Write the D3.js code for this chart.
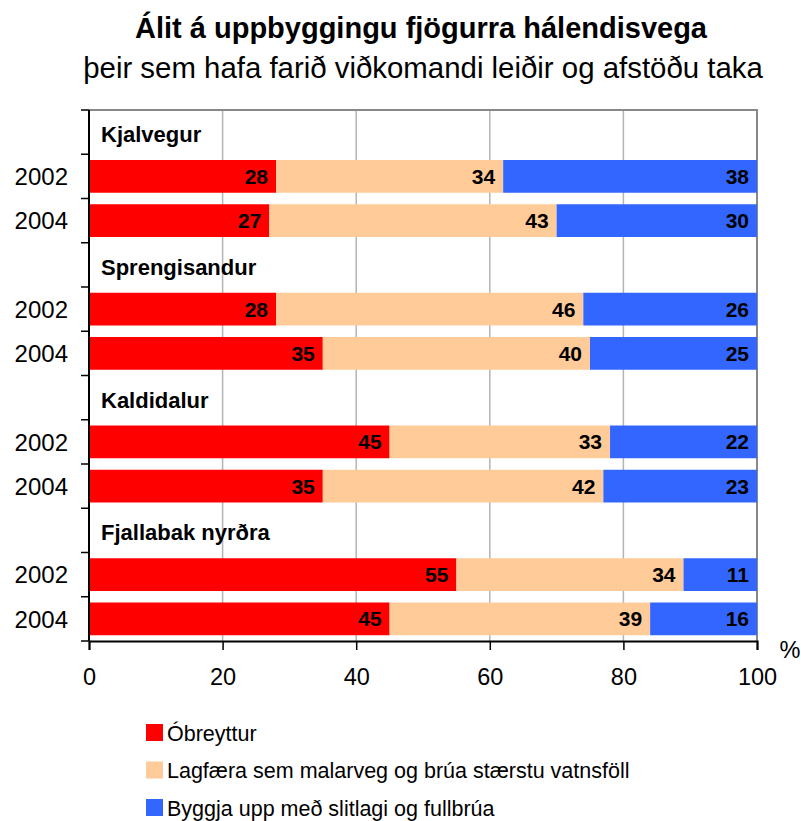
<!DOCTYPE html>
<html>
<head>
<meta charset="utf-8">
<script src="https://cdn.jsdelivr.net/npm/d3@7"></script>
<style>
  body { margin: 0; background: #fff; }
  text { font-family: Arial, "Liberation Sans", sans-serif; }
</style>
</head>
<body>
<div id="chart"></div>
<script>
// data
var roads = ["Kjalvegur", "Sprengisandur", "Kaldidalur", "Fjallabak nyrðra"];
var years = ["2002", "2004"];
var seriesNames = ["Óbreyttur", "Lagfæra sem malarveg og brúa stærstu vatnsföll", "Byggja upp með slitlagi og fullbrúa"];
var obreyttur = [28, 27, 28, 35, 45, 35, 55, 45];
var lagfaera  = [34, 43, 46, 40, 33, 42, 34, 39];
var byggja    = [38, 30, 26, 25, 22, 23, 11, 16];
var xTicks = [0, 20, 40, 60, 80, 100];
var colors = ["#ff0000", "#ffcc99", "#3366ff"];

var W = 801, H = 821;
var margin = { top: 110, left: 89, right: 44, bottom: 180 };
var width = W - margin.left - margin.right,
    height = H - margin.top - margin.bottom;

var svg = d3.select("#chart").append("svg")
    .attr("width", W).attr("height", H);

svg.append("text").attr("x", 421).attr("y", 38)
    .attr("text-anchor", "middle").style("font-size", "29px").style("font-weight", "bold")
    .text("Álit á uppbyggingu fjögurra hálendisvega");
svg.append("text").attr("x", 423).attr("y", 78)
    .attr("text-anchor", "middle").style("font-size", "29.4px")
    .text("þeir sem hafa farið viðkomandi leiðir og afstöðu taka");

var g = svg.append("g").attr("transform", "translate(" + margin.left + "," + margin.top + ")");

// rows: header + 2 years per road
var rows = [];
roads.forEach(function (r, i) {
  rows.push({ key: "h" + i, header: r });
  years.forEach(function (y, j) {
    var k = i * 2 + j;
    rows.push({ key: "r" + k, year: y, vals: [obreyttur[k], lagfaera[k], byggja[k]] });
  });
});

var x = d3.scaleLinear().domain([0, 100]).range([0, width]);
var y = d3.scaleBand().domain(rows.map(function (d) { return d.key; }))
    .range([0, height]).paddingInner(0.26).paddingOuter(0.13);

// gridlines
g.selectAll(".grid").data(xTicks.slice(1, -1)).enter().append("line")
    .attr("x1", function (d) { return x(d); }).attr("x2", function (d) { return x(d); })
    .attr("y1", 0).attr("y2", height)
    .attr("stroke", "#b4b4b4").attr("stroke-width", 1.5);

// top and right border
g.append("path").attr("d", "M0,0H" + x(100) + "V" + height)
    .attr("fill", "none").attr("stroke", "#888").attr("stroke-width", 2);

// bars
var dataRows = rows.filter(function (d) { return d.vals; });
dataRows.forEach(function (row) {
  var start = 0;
  row.vals.forEach(function (v, si) {
    g.append("rect")
      .attr("x", x(start)).attr("width", x(start + v) - x(start))
      .attr("y", y(row.key)).attr("height", y.bandwidth())
      .attr("fill", colors[si]);
    g.append("text")
      .attr("x", x(start + v) - 8).attr("y", y(row.key) + y.bandwidth() / 2)
      .attr("dy", "0.36em").attr("text-anchor", "end")
      .style("font-size", "21px").style("font-weight", "bold")
      .text(v);
    start += v;
  });
});

// headers
rows.filter(function (d) { return d.header; }).forEach(function (row) {
  g.append("text").attr("x", 12)
    .attr("y", y(row.key) + y.bandwidth() / 2 + 2).attr("dy", "0.36em")
    .style("font-size", "22px").style("font-weight", "bold")
    .text(row.header);
});

// y axis with ticks between categories
var yTickPos = d3.range(rows.length + 1).map(function (i) { return i * height / rows.length; });
g.append("line").attr("x1", 0).attr("x2", 0).attr("y1", 0).attr("y2", height)
    .attr("stroke", "#000").attr("stroke-width", 2);
g.selectAll(".ytick").data(yTickPos).enter().append("line")
    .attr("x1", -8).attr("x2", 0)
    .attr("y1", function (d) { return d; }).attr("y2", function (d) { return d; })
    .attr("stroke", "#000").attr("stroke-width", 1.5);
dataRows.forEach(function (row) {
  g.append("text").attr("x", -21).attr("y", y(row.key) + y.bandwidth() / 2)
    .attr("dy", "0.36em").attr("text-anchor", "end")
    .style("font-size", "24px").text(row.year);
});

// x axis
var xAxis = g.append("g").attr("transform", "translate(0," + height + ")")
    .call(d3.axisBottom(x).tickValues(xTicks).tickSize(9).tickPadding(18));
xAxis.select(".domain").attr("stroke-width", 2);
xAxis.selectAll(".tick line").attr("stroke-width", 1.5);
xAxis.selectAll(".tick text").style("font-size", "23.5px").attr("font-family", null);
svg.append("text").attr("x", 790).attr("y", 650).attr("dy", "0.36em").attr("text-anchor", "middle")
    .style("font-size", "23.5px").text("%");

// legend
var legend = svg.append("g").attr("transform", "translate(146,724)");
seriesNames.forEach(function (name, i) {
  var lg = legend.append("g").attr("transform", "translate(0," + (i * 37.5) + ")");
  lg.append("rect").attr("width", 17).attr("height", 17).attr("fill", colors[i]);
  lg.append("text").attr("x", 21).attr("y", 9).attr("dy", "0.36em")
    .style("font-size", "21.5px").text(name);
});
</script>
</body>
</html>
